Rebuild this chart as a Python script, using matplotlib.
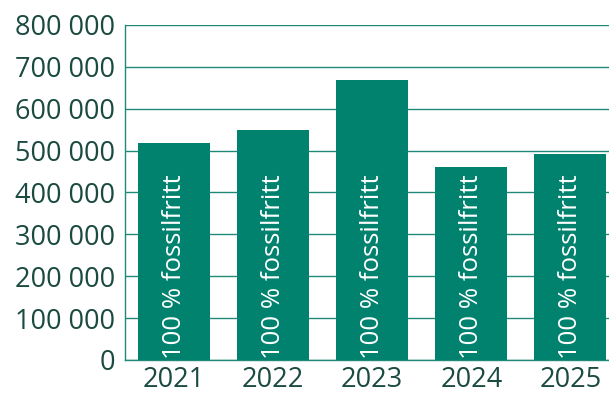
import matplotlib
matplotlib.use("Agg")
import matplotlib.pyplot as plt
from matplotlib.ticker import FuncFormatter

years = ["2021", "2022", "2023", "2024", "2025"]
values = [518000, 549000, 669000, 461000, 492000]
bar_label = "100 % fossilfritt"

BAR = "#00826f"
GRID = "#1f8a78"
TEXT = "#1a4a40"

plt.rcParams["font.family"] = ["Open Sans", "DejaVu Sans"]

fig = plt.figure(figsize=(6.09, 3.94), dpi=100)
ax = fig.add_axes([124.5 / 609, 34 / 394, 1 - 124.5 / 609, 335 / 394])

x = range(len(years))
bars = ax.bar(x, values, width=0.727, color=BAR, zorder=3)
for xi in x:
    ax.text(xi, 2000, bar_label, rotation=90, ha="center", va="bottom",
            color="white", fontsize=18.5, zorder=4)

ax.set_xlim(-0.5, 4.39)
ax.set_ylim(0, 800000)
ax.set_yticks(range(0, 800001, 100000))
ax.yaxis.set_major_formatter(FuncFormatter(lambda v, p: f"{int(v):,}".replace(",", " ")))
ax.set_xticks(list(x))
ax.set_xticklabels(years)
ax.tick_params(axis="both", length=0, labelsize=19.5, colors=TEXT)
ax.tick_params(axis="y", pad=7)
ax.tick_params(axis="x", pad=4)
ax.grid(axis="y", color=GRID, linewidth=1, zorder=0)
for side in ["top", "right"]:
    ax.spines[side].set_visible(False)
for side in ["left", "bottom"]:
    ax.spines[side].set_color(GRID)
    ax.spines[side].set_linewidth(1)

fig.savefig("out.png", dpi=100)
